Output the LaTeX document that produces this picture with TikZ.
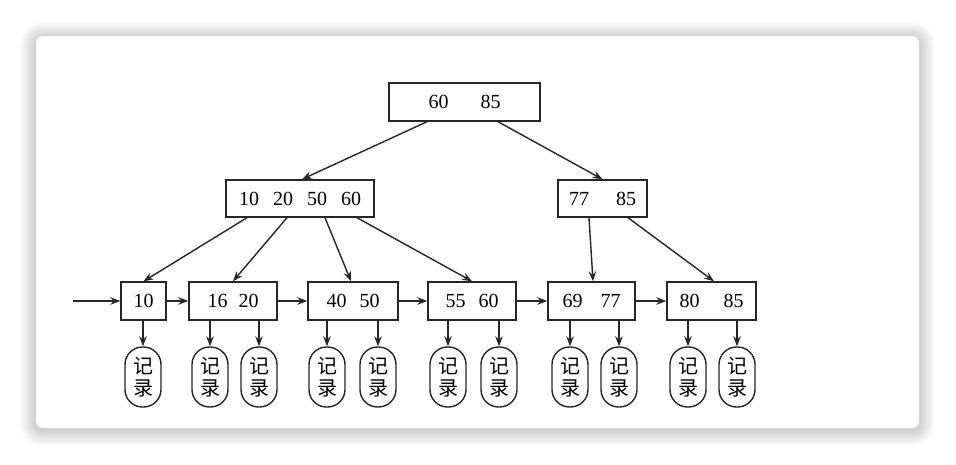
\documentclass[tikz,border=0pt]{standalone}
\usepackage{fontspec}
\setmainfont{Liberation Serif}
\newfontfamily\cjk{Noto Sans CJK SC}
\usetikzlibrary{arrows.meta}
\begin{document}
\begin{tikzpicture}[x=1pt,y=-1pt,
  line/.style={draw=black!85, line width=1.4pt},
  arr/.style={line, -{Stealth[length=10pt,width=7.5pt,inset=3.5pt]}},
  keybox/.style={line, fill=white, minimum height=38pt, inner sep=0pt, font=\fontsize{20}{22}\selectfont, anchor=center},
  rec/.style={line, fill=white, rounded corners=17.5pt, minimum width=36pt, minimum height=60pt, inner sep=0pt, align=center, font=\cjk\fontsize{20}{22}\selectfont}
]
\useasboundingbox (0,0) rectangle (956,464);
% card shadow and card
\foreach \i in {1,...,16} {
  \fill[black, opacity=0.013, rounded corners={(7+\i)*1pt}] (36-\i,38-\i) rectangle (919+\i,430+\i);
}
\fill[white, rounded corners=7pt] (36,36) rectangle (919,428);

% tree nodes
\node[keybox, minimum width=151pt] (root) at (464.5,102) {60\hspace{32pt}85};
\node[keybox, minimum width=148pt, minimum height=37pt] (A) at (300,198.5) {10\hspace{14pt}20\hspace{14pt}50\hspace{14pt}60};
\node[keybox, minimum width=89pt, minimum height=37pt] (B) at (602.5,198.5) {77\hspace{27pt}85};

\node[keybox, minimum width=45pt] (L1) at (143.5,301) {10};
\node[keybox, minimum width=88pt] (L2) at (233,301) {16\hspace{11pt}20};
\node[keybox, minimum width=90pt] (L3) at (353,301) {40\hspace{13pt}50};
\node[keybox, minimum width=88pt] (L4) at (472,301) {55\hspace{13pt}60};
\node[keybox, minimum width=87pt] (L5) at (591.5,301) {69\hspace{18pt}77};
\node[keybox, minimum width=89pt] (L6) at (711.5,301) {80\hspace{24pt}85};

% records
\foreach \n/\x in {r1/143, r2/210, r3/259, r4/327, r5/378, r6/448, r7/499, r8/570, r9/619, r10/688, r11/737} {
  \node[rec] (\n) at (\x,377) {记\\录};
}

% root to level 2
\draw[arr] ([xshift=-37.5pt]root.south) -- ([xshift=2pt]A.north);
\draw[arr] ([xshift=33.5pt]root.south) -- (B.north);

% level 2 to leaves
\draw[arr] ([xshift=-53pt]A.south) -- (L1.north);
\draw[arr] ([xshift=-13pt]A.south) -- (L2.north);
\draw[arr] ([xshift=25pt]A.south) -- ([xshift=-2pt]L3.north);
\draw[arr] ([xshift=57pt]A.south) -- (L4.north);
\draw[arr] ([xshift=-13.5pt]B.south) -- ([xshift=1.5pt]L5.north);
\draw[arr] ([xshift=25.5pt]B.south) -- ([xshift=2.5pt]L6.north);

% leaf chain
\coordinate (entry) at (73,301);
\draw[arr] (entry) -- (L1.west);
\draw[arr] (L1.east) -- (L2.west);
\draw[arr] (L2.east) -- (L3.west);
\draw[arr] (L3.east) -- (L4.west);
\draw[arr] (L4.east) -- (L5.west);
\draw[arr] (L5.east) -- (L6.west);

% leaves to records
\foreach \l/\r in {L1/r1, L2/r2, L2/r3, L3/r4, L3/r5, L4/r6, L4/r7, L5/r8, L5/r9, L6/r10, L6/r11} {
  \draw[arr] (\r |- \l.south) -- (\r.north);
}
\end{tikzpicture}
\end{document}
